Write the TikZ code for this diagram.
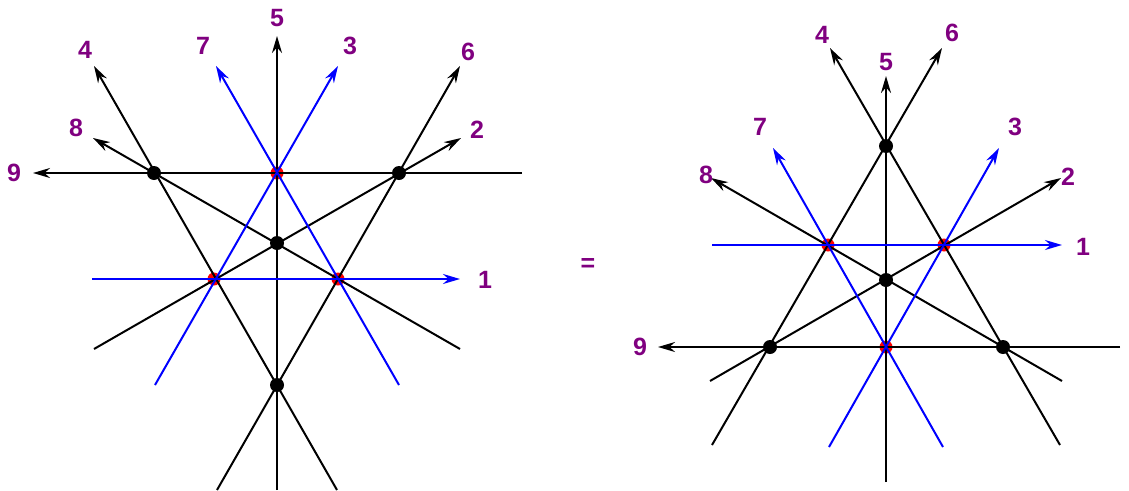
\documentclass[tikz,border=0pt]{standalone}
\usepackage{fontspec}
\setmainfont{Liberation Sans}
\usetikzlibrary{arrows.meta}
\definecolor{labc}{RGB}{128,0,128}
\begin{document}
\begin{tikzpicture}[x=1pt,y=-1pt,
  bl/.style={line width=2pt,black},
  bu/.style={line width=2pt,blue},
  ar/.style={-{Stealth[length=17pt,width=10pt]}},
  bdot/.style={circle,fill=black,inner sep=0pt,minimum size=14pt},
  rdot/.style={circle,fill=red,inner sep=0pt,minimum size=13pt},
  lab/.style={text=labc,font=\bfseries\fontsize{25}{25}\selectfont}]
\path[use as bounding box] (0,0) rectangle (1129,490);
% ---------- left ----------
\node[rdot] (lr1) at (277,173) {};
\node[rdot] (lr2) at (214,279) {};
\node[rdot] (lr3) at (338,279) {};
\coordinate (l5a) at (277,490); \coordinate (l5b) at (277,36);
\coordinate (l9a) at (522,173); \coordinate (l9b) at (33,173);
\coordinate (l1a) at (92,279);  \coordinate (l1b) at (460,279);
\coordinate (l4a) at (337,490); \coordinate (l4b) at (94,66);
\coordinate (l6a) at (217,490); \coordinate (l6b) at (460,66);
\coordinate (l8a) at (460,349); \coordinate (l8b) at (93,138);
\coordinate (l2a) at (94,349);  \coordinate (l2b) at (461,138);
\coordinate (l7a) at (399,385); \coordinate (l7b) at (216,66);
\coordinate (l3a) at (155,385); \coordinate (l3b) at (338,66);
\draw[bl,ar] (l5a) -- (l5b);
\draw[bl,ar] (l9a) -- (l9b);
\draw[bl,ar] (l4a) -- (l4b);
\draw[bl,ar] (l6a) -- (l6b);
\draw[bl,ar] (l8a) -- (l8b);
\draw[bl,ar] (l2a) -- (l2b);
\draw[bu,ar] (l1a) -- (l1b);
\draw[bu,ar] (l7a) -- (l7b);
\draw[bu,ar] (l3a) -- (l3b);
\node[bdot] (lb1) at (154,173) {};
\node[bdot] (lb2) at (399,173) {};
\node[bdot] (lb3) at (277,243) {};
\node[bdot] (lb4) at (277,385) {};
\node[lab] (t5) at (277,18) {5};
\node[lab] (t9) at (14,173) {9};
\node[lab] (t1) at (485,280) {1};
\node[lab] (t4) at (85,50) {4};
\node[lab] (t7) at (203,46) {7};
\node[lab] (t3) at (350,46) {3};
\node[lab] (t6) at (468,52) {6};
\node[lab] (t2) at (477,130) {2};
\node[lab] (t8) at (76,128) {8};
\node[lab] (eq) at (588,265) {=};
% ---------- right ----------
\node[rdot] (rr1) at (828,245) {};
\node[rdot] (rr2) at (944,245) {};
\node[rdot] (rr3) at (886,347) {};
\coordinate (r5a) at (886,482); \coordinate (r5b) at (886,76);
\coordinate (r9a) at (1120,347); \coordinate (r9b) at (658,347);
\coordinate (r1a) at (712,245); \coordinate (r1b) at (1062,245);
\coordinate (r4a) at (1060,445); \coordinate (r4b) at (830,48);
\coordinate (r6a) at (712,445); \coordinate (r6b) at (942,48);
\coordinate (r8a) at (1062,381); \coordinate (r8b) at (711,178);
\coordinate (r2a) at (710,381); \coordinate (r2b) at (1061,178);
\coordinate (r7a) at (943,447); \coordinate (r7b) at (773,148);
\coordinate (r3a) at (829,447); \coordinate (r3b) at (999,148);
\draw[bl,ar] (r5a) -- (r5b);
\draw[bl,ar] (r9a) -- (r9b);
\draw[bl,ar] (r4a) -- (r4b);
\draw[bl,ar] (r6a) -- (r6b);
\draw[bl,ar] (r8a) -- (r8b);
\draw[bl,ar] (r2a) -- (r2b);
\draw[bu,ar] (r1a) -- (r1b);
\draw[bu,ar] (r7a) -- (r7b);
\draw[bu,ar] (r3a) -- (r3b);
\node[bdot] (rb1) at (886,146) {};
\node[bdot] (rb2) at (886,280) {};
\node[bdot] (rb3) at (770,347) {};
\node[bdot] (rb4) at (1003,347) {};
\node[lab] (s5) at (886,62) {5};
\node[lab] (s9) at (640,347) {9};
\node[lab] (s1) at (1083,247) {1};
\node[lab] (s4) at (822,35) {4};
\node[lab] (s6) at (952,33) {6};
\node[lab] (s8) at (706,175) {8};
\node[lab] (s2) at (1068,177) {2};
\node[lab] (s7) at (760,127) {7};
\node[lab] (s3) at (1015,127) {3};
\end{tikzpicture}
\end{document}
